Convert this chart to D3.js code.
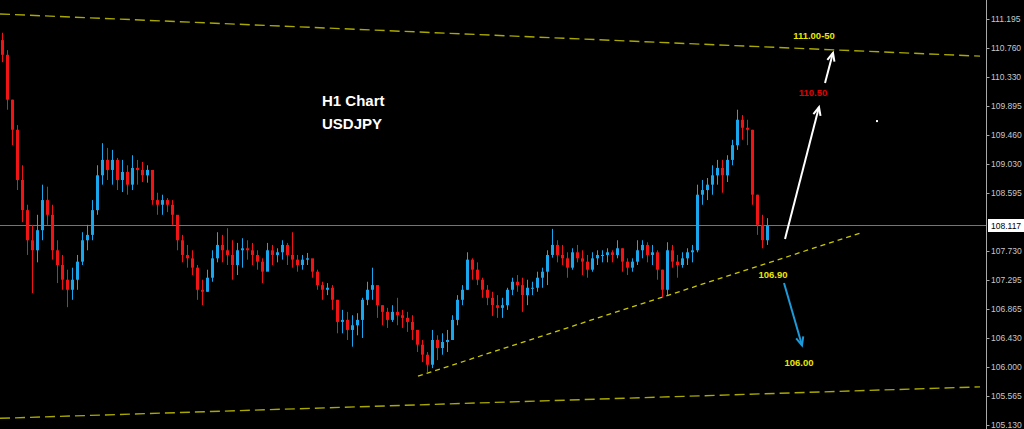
<!DOCTYPE html>
<html><head><meta charset="utf-8">
<script src="https://cdn.jsdelivr.net/npm/d3@7"></script>
<style>html,body{margin:0;padding:0;background:#000;overflow:hidden}</style>
</head><body><svg id="c" width="1024" height="429"></svg>
<script>
// ---- data (USDJPY, H1) ----
const firstOpen = 110.88;
const highs = [
110.99,110.73,109.99,109.61,109.01,108.42,108.12,108.27,108.72,108.69,
108.42,107.89,107.67,107.45,107.48,107.67,108.01,108.12,108.49,109.01,
109.34,109.27,109.24,109.12,109.09,109.01,109.16,109.09,109.06,109.01,
108.86,108.60,108.57,108.52,108.49,108.19,107.97,107.82,107.74,107.52,
107.30,107.45,107.74,108.01,107.97,108.07,107.89,107.85,107.92,107.89,
107.85,107.74,107.62,107.85,107.82,107.77,107.89,107.85,108.01,107.67,
107.67,107.70,107.56,107.45,107.27,107.25,107.22,107.00,106.85,106.82,
106.77,106.80,107.03,107.27,107.48,107.15,106.92,106.88,106.92,107.03,
106.85,106.82,106.77,106.55,106.40,106.22,106.55,106.47,106.50,106.55,
106.77,107.07,107.22,107.71,107.62,107.56,107.33,107.22,107.12,107.07,
107.03,107.18,107.33,107.37,107.33,107.30,107.27,107.42,107.48,107.74,
108.06,107.89,107.82,107.71,107.77,107.82,107.74,107.67,107.71,107.74,
107.74,107.77,107.74,107.89,107.77,107.62,107.62,107.89,107.89,107.86,
107.82,107.74,107.45,107.86,107.82,107.67,107.71,107.77,107.82,108.72,
108.79,108.82,109.01,109.09,109.09,109.16,109.39,109.84,109.76,109.69,
109.54,108.57,108.27,108.22];
const lows = [
110.55,109.84,109.31,108.64,108.16,107.67,107.10,107.56,107.89,108.12,
107.60,107.25,107.15,106.89,107.00,107.15,107.52,107.74,107.89,108.27,
108.72,108.79,108.72,108.64,108.61,108.57,108.64,108.72,108.76,108.75,
108.42,108.27,108.27,108.31,108.12,107.74,107.56,107.48,107.37,107.00,
106.92,107.12,107.27,107.56,107.56,107.52,107.30,107.37,107.48,107.60,
107.52,107.45,107.25,107.56,107.52,107.56,107.60,107.52,107.48,107.42,
107.45,107.52,107.33,107.15,107.00,107.07,106.85,106.50,106.50,106.40,
106.30,106.47,106.43,106.92,107.00,106.73,106.62,106.58,106.67,106.62,
106.58,106.52,106.40,106.22,106.07,105.92,105.98,106.10,106.18,106.22,
106.40,106.62,106.92,107.15,107.30,107.22,107.03,106.92,106.76,106.73,
106.73,106.85,107.07,107.12,106.82,106.92,107.07,107.12,107.18,107.22,
107.63,107.56,107.52,107.33,107.45,107.56,107.37,107.33,107.42,107.52,
107.56,107.56,107.56,107.62,107.42,107.37,107.42,107.52,107.62,107.56,
107.52,107.30,107.03,107.07,107.48,107.33,107.48,107.52,107.56,107.71,
108.42,108.49,108.57,108.72,108.60,108.76,109.01,109.24,109.39,109.31,
108.42,107.97,107.77,107.82];
const closes = [
110.66,109.99,109.54,108.79,108.34,107.89,107.74,108.04,108.49,108.27,
107.74,107.52,107.30,107.15,107.30,107.57,107.89,107.97,108.34,108.86,
109.09,108.94,109.09,108.79,108.91,108.72,108.97,108.94,108.86,108.94,
108.49,108.42,108.49,108.42,108.27,107.89,107.67,107.62,107.48,107.15,
107.12,107.33,107.62,107.82,107.74,107.67,107.52,107.74,107.77,107.74,
107.67,107.57,107.42,107.74,107.67,107.71,107.82,107.67,107.60,107.52,
107.60,107.62,107.42,107.22,107.15,107.18,107.00,106.67,106.70,106.55,
106.62,106.70,107.00,107.15,107.22,106.92,106.82,106.70,106.82,106.77,
106.73,106.67,106.55,106.33,106.18,106.03,106.40,106.28,106.37,106.40,
106.70,107.00,107.15,107.60,107.45,107.30,107.15,107.03,106.92,106.88,
106.92,107.15,107.27,107.22,107.07,107.18,107.18,107.33,107.42,107.67,
107.82,107.67,107.62,107.48,107.71,107.62,107.57,107.45,107.62,107.67,
107.67,107.71,107.67,107.77,107.57,107.48,107.57,107.74,107.82,107.67,
107.71,107.45,107.15,107.74,107.57,107.52,107.62,107.71,107.74,108.57,
108.64,108.72,108.86,108.97,108.86,109.09,109.31,109.69,109.57,109.54,
108.57,108.12,107.89,108.117];
const tickValues = [111.195,110.760,110.330,109.895,109.460,109.030,108.595,107.730,107.295,106.865,106.430,106.000,105.565,105.130];
const lastPrice = 108.117;
const titleLines = ["H1 Chart", "USDJPY"];
// trend lines: [barIndex, price]
const trendUpper = [[-0.4, 111.27], [195.6, 110.64]];
const trendLower = [[-0.4, 105.23], [195.6, 105.70]];
const trendSupport = [[83.2, 105.86], [172.2, 108.01]];
// arrows: [from, to] in [barIndex, price]
const arrowsWhite = [[[156.6, 107.91], [163.4, 109.88]], [[164.6, 110.24], [166.2, 110.69]]];
const arrowsBlue = [[[156.4, 107.25], [160.0, 106.32]]];
const markerDot = [175, 109.67];
// labels: [text, barIndex, price, color]
const priceNotes = [
  ["111.00-50", 162.4, 110.90, "#e8e800"],
  ["110.50", 162.2, 110.04, "#e00000"],
  ["106.90", 154.2, 107.33, "#e8e800"],
  ["106.00", 159.4, 106.01, "#e8e800"]
];

// ---- drawing ----
const svg = d3.select("#c");
const W = 1024, H = 429;
svg.append("rect").attr("width", W).attr("height", H).attr("fill", "#000");

const x = d3.scaleLinear().domain([0, closes.length - 1]).range([2, 767]);
const y = d3.scaleLinear().domain([105.130, 111.195]).range([425, 19]);
const axisX = 986.5;

const bars = closes.map((c, i) => ({i, o: i === 0 ? firstOpen : closes[i - 1], h: highs[i], l: lows[i], c}));

// current price line
svg.append("line").attr("x1", 0).attr("x2", axisX).attr("y1", Math.round(y(lastPrice)) + 0.5).attr("y2", Math.round(y(lastPrice)) + 0.5)
  .attr("stroke", "#6f7588").attr("stroke-width", 1);

// trend lines
const line = d3.line().x(d => x(d[0])).y(d => y(d[1]));
svg.append("path").attr("d", line(trendUpper)).attr("fill", "none").attr("stroke", "#a8a800").attr("stroke-width", 1.4).attr("stroke-dasharray", "10,5");
svg.append("path").attr("d", line(trendLower)).attr("fill", "none").attr("stroke", "#a8a800").attr("stroke-width", 1.4).attr("stroke-dasharray", "10,5");
svg.append("path").attr("d", line(trendSupport)).attr("fill", "none").attr("stroke", "#c8c800").attr("stroke-width", 1.3).attr("stroke-dasharray", "5,4");

// candles
const upCol = "#1aa6ec", dnCol = "#f01414";
const g = svg.append("g");
g.selectAll("line.w").data(bars).join("line").attr("class", "w")
  .attr("x1", d => Math.round(x(d.i)) + 0.5).attr("x2", d => Math.round(x(d.i)) + 0.5)
  .attr("y1", d => y(d.h)).attr("y2", d => y(d.l))
  .attr("stroke", d => d.c >= d.o ? upCol : dnCol).attr("stroke-width", 1);
g.selectAll("rect.b").data(bars).join("rect").attr("class", "b")
  .attr("x", d => Math.round(x(d.i)) - 1).attr("width", 3)
  .attr("y", d => y(Math.max(d.o, d.c)))
  .attr("height", d => Math.max(1, Math.abs(y(d.o) - y(d.c))))
  .attr("fill", d => d.c >= d.o ? upCol : dnCol);

// arrows
function drawArrow(a, col) {
  const x1 = x(a[0][0]), y1 = y(a[0][1]), x2 = x(a[1][0]), y2 = y(a[1][1]);
  svg.append("line").attr("x1", x1).attr("y1", y1).attr("x2", x2).attr("y2", y2)
    .attr("stroke", col).attr("stroke-width", 2);
  const ang = Math.atan2(y2 - y1, x2 - x1), L = 9, sp = 0.42;
  const p = [[x2 - L * Math.cos(ang - sp), y2 - L * Math.sin(ang - sp)], [x2, y2], [x2 - L * Math.cos(ang + sp), y2 - L * Math.sin(ang + sp)]];
  svg.append("path").attr("d", d3.line()(p)).attr("fill", "none").attr("stroke", col).attr("stroke-width", 2);
}
arrowsWhite.forEach(a => drawArrow(a, "#ffffff"));
arrowsBlue.forEach(a => drawArrow(a, "#1e9ad8"));

svg.append("rect").attr("x", x(markerDot[0]) - 1).attr("y", y(markerDot[1]) - 1).attr("width", 2).attr("height", 2).attr("fill", "#fff");

// notes
svg.selectAll("text.note").data(priceNotes).join("text").attr("class", "note")
  .attr("x", d => x(d[1])).attr("y", d => y(d[2]))
  .attr("text-anchor", "middle").attr("font-family", "Liberation Sans, Arial, sans-serif")
  .attr("font-weight", "bold").attr("font-size", "9.5px").attr("fill", d => d[3]).text(d => d[0]);

// title
svg.selectAll("text.title").data(titleLines).join("text").attr("class", "title")
  .attr("x", 322).attr("y", (d, i) => 106 + i * 23)
  .attr("font-family", "Liberation Sans, Arial, sans-serif").attr("font-weight", "bold")
  .attr("font-size", "15px").attr("fill", "#fff").text(d => d);

// right axis
svg.append("line").attr("x1", axisX).attr("x2", axisX).attr("y1", 0).attr("y2", H).attr("stroke", "#a8a8a8").attr("stroke-width", 1);
const ax = svg.append("g");
ax.selectAll("line").data(tickValues).join("line")
  .attr("x1", axisX).attr("x2", axisX + 3).attr("y1", d => Math.round(y(d)) + 0.5).attr("y2", d => Math.round(y(d)) + 0.5)
  .attr("stroke", "#a8a8a8");
ax.selectAll("text").data(tickValues).join("text")
  .attr("x", 991).attr("y", d => y(d) + 3)
  .attr("font-family", "Liberation Sans, Arial, sans-serif").attr("font-size", "8.5px")
  .attr("fill", "#c8c8c8").text(d => d3.format(".3f")(d));

// last price box
const ly = y(lastPrice);
svg.append("rect").attr("x", 988).attr("y", Math.round(ly) - 6).attr("width", 36).attr("height", 13).attr("fill", "#fff");
svg.append("text").attr("x", 991).attr("y", ly + 3.5)
  .attr("font-family", "Liberation Sans, Arial, sans-serif").attr("font-size", "8.5px")
  .attr("fill", "#000").text(d3.format(".3f")(lastPrice));
</script></body></html>
